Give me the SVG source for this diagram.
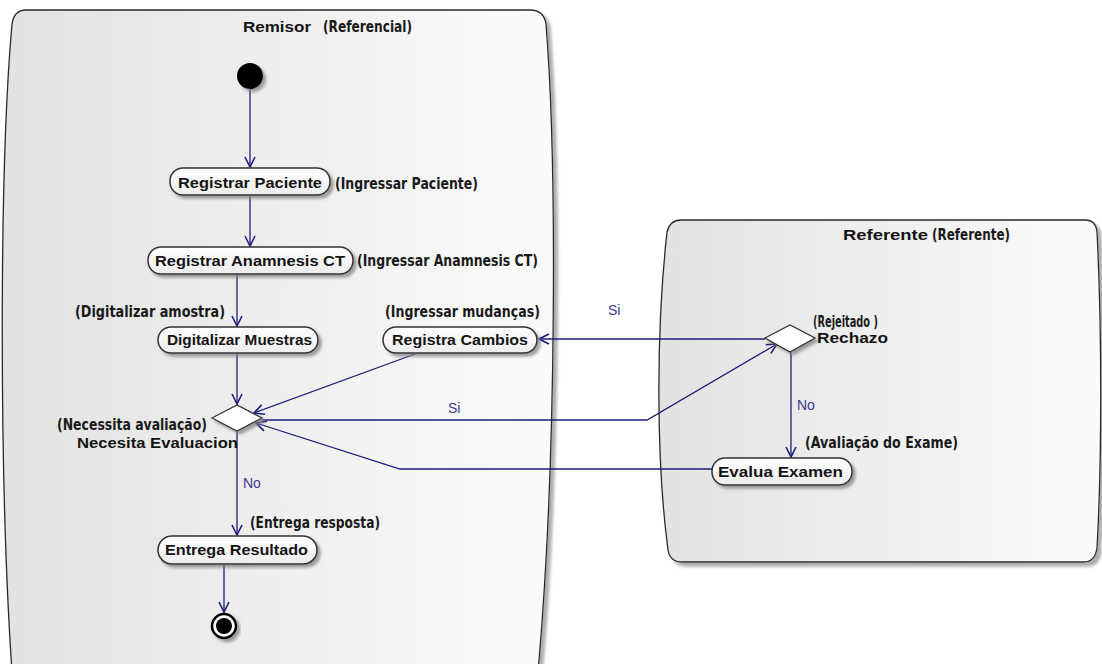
<svg xmlns="http://www.w3.org/2000/svg" width="1102" height="664" viewBox="0 0 1102 664">
  <defs>
    <linearGradient id="laneFill" x1="0" y1="0" x2="1" y2="0">
      <stop offset="0" stop-color="#e2e2e2"/>
      <stop offset="0.55" stop-color="#f0f0f0"/>
      <stop offset="1" stop-color="#fbfbfb"/>
    </linearGradient>
    <linearGradient id="nodeFill" x1="0" y1="0" x2="0" y2="1">
      <stop offset="0" stop-color="#ffffff"/>
      <stop offset="1" stop-color="#ececec"/>
    </linearGradient>
    <filter id="shadow" x="-10%" y="-20%" width="130%" height="160%">
      <feDropShadow dx="3" dy="3" stdDeviation="1.5" flood-color="#808080" flood-opacity="0.75"/>
    </filter>
    <filter id="laneShadow" x="-5%" y="-5%" width="115%" height="115%">
      <feDropShadow dx="4" dy="4" stdDeviation="1.5" flood-color="#9a9a9a" flood-opacity="0.8"/>
    </filter>
    <marker id="arrow" viewBox="0 0 12 12" refX="11" refY="6" markerWidth="12" markerHeight="12" markerUnits="userSpaceOnUse" orient="auto">
      <path d="M1,1 L11,6 L1,11" fill="none" stroke="#1e1e78" stroke-width="1.6"/>
    </marker>
  </defs>
  <style>
    .lane { fill: url(#laneFill); stroke: #2a2a2a; stroke-width: 1.3; filter: url(#laneShadow); }
    .node { fill: url(#nodeFill); stroke: #333333; stroke-width: 1.5; filter: url(#shadow); }
    .diamond { fill: #ffffff; stroke: #333333; stroke-width: 1.3; filter: url(#shadow); }
    .flow { fill: none; stroke: #1e1e78; stroke-width: 1.3; marker-end: url(#arrow); }
    .name { font-family: "Liberation Sans", Arial, sans-serif; font-weight: bold; font-size: 15px; fill: #141414; }
    .alias { font-family: "Liberation Sans Narrow", "DejaVu Sans Condensed", "Liberation Sans", sans-serif; font-weight: bold; font-size: 15px; fill: #1a1a1a; }
    .guard { font-family: "Liberation Sans", Arial, sans-serif; font-size: 14px; fill: #3a3a8c; }
  </style>

  <!-- swimlanes -->
  <g id="lane-remisor">
    <path class="lane" d="M12,24 Q14,10 26,10 L530,10 Q544,10 546,24 C557,160 557,460 538,672 L12,672 C-1,480 -1,170 12,24 Z"/>
    <text class="name" x="243" y="32" textLength="68" lengthAdjust="spacingAndGlyphs">Remisor</text>
    <text class="alias" x="323" y="32" textLength="89" lengthAdjust="spacingAndGlyphs">(Referencial)</text>
  </g>
  <g id="lane-referente">
    <path class="lane" d="M667,232 Q670,220 681,220 L1085,220 Q1096,220 1097,232 C1102,330 1102,460 1097,548 Q1095,562 1084,562 L682,562 Q670,562 668,550 C656,460 656,330 667,232 Z"/>
    <text class="name" x="843" y="240" textLength="85" lengthAdjust="spacingAndGlyphs">Referente</text>
    <text class="alias" x="932" y="240" textLength="78" lengthAdjust="spacingAndGlyphs">(Referente)</text>
  </g>

  <!-- connectors -->
  <g id="connectors">
    <path class="flow" d="M250,89 L250,167"/>
    <path class="flow" d="M250,195 L250,246"/>
    <path class="flow" d="M237,274 L237,326"/>
    <path class="flow" d="M237,353 L237,404"/>
    <path class="flow" d="M415,354 L254,413"/>
    <path class="flow" d="M262,420 L647,420 L777,344"/>
    <path class="flow" d="M765,339 L539,339"/>
    <path class="flow" d="M791,352 L791,457"/>
    <path class="flow" d="M712,469 L400,469 L256,423"/>
    <path class="flow" d="M237,431 L237,535"/>
    <path class="flow" d="M224,564 L224,612"/>
    <text class="guard" x="448" y="413">Si</text>
    <text class="guard" x="608" y="315">Si</text>
    <text class="guard" x="243" y="488">No</text>
    <text class="guard" x="797" y="410">No</text>
  </g>

  <!-- start -->
  <g id="start">
    <circle cx="250" cy="76" r="13" fill="#000" filter="url(#shadow)"/>
  </g>

  <g id="registrar-paciente">
    <rect class="node" x="170" y="168" width="160" height="27" rx="13"/>
    <text class="name" x="178" y="188" textLength="144" lengthAdjust="spacingAndGlyphs">Registrar Paciente</text>
    <text class="alias" x="335" y="189" textLength="143" lengthAdjust="spacingAndGlyphs">(Ingressar Paciente)</text>
  </g>

  <g id="registrar-anamnesis">
    <rect class="node" x="148" y="247" width="205" height="27" rx="13"/>
    <text class="name" x="155" y="266" textLength="190" lengthAdjust="spacingAndGlyphs">Registrar Anamnesis CT</text>
    <text class="alias" x="357" y="266" textLength="181" lengthAdjust="spacingAndGlyphs">(Ingressar Anamnesis CT)</text>
  </g>

  <g id="digitalizar-muestras">
    <text class="alias" x="75" y="317" textLength="150" lengthAdjust="spacingAndGlyphs">(Digitalizar amostra)</text>
    <rect class="node" x="158" y="327" width="160" height="26" rx="13"/>
    <text class="name" x="167" y="345" textLength="145" lengthAdjust="spacingAndGlyphs">Digitalizar Muestras</text>
  </g>

  <g id="registra-cambios">
    <text class="alias" x="385" y="317" textLength="155" lengthAdjust="spacingAndGlyphs">(Ingressar mudanças)</text>
    <rect class="node" x="383" y="327" width="154" height="26" rx="13"/>
    <text class="name" x="392" y="345" textLength="136" lengthAdjust="spacingAndGlyphs">Registra Cambios</text>
  </g>

  <g id="necesita-evaluacion">
    <polygon class="diamond" points="212,418 237,405 262,418 237,431"/>
    <text class="alias" x="57" y="430" textLength="150" lengthAdjust="spacingAndGlyphs">(Necessita avaliação)</text>
    <text class="name" x="77" y="448" textLength="161" lengthAdjust="spacingAndGlyphs">Necesita Evaluacion</text>
  </g>

  <g id="entrega-resultado">
    <text class="alias" x="250" y="528" textLength="130" lengthAdjust="spacingAndGlyphs">(Entrega resposta)</text>
    <rect class="node" x="158" y="536" width="159" height="28" rx="14"/>
    <text class="name" x="165" y="555" textLength="143" lengthAdjust="spacingAndGlyphs">Entrega Resultado</text>
  </g>

  <g id="end">
    <circle cx="224" cy="626" r="12" fill="#ffffff" stroke="#000" stroke-width="2.5" filter="url(#shadow)"/>
    <circle cx="224" cy="626" r="8" fill="#000"/>
  </g>

  <g id="rechazo">
    <polygon class="diamond" points="765,338 790,325 815,338 790,352"/>
    <text class="alias" x="813" y="327" textLength="65" lengthAdjust="spacingAndGlyphs">(Rejeitado )</text>
    <text class="name" x="817" y="343" textLength="71" lengthAdjust="spacingAndGlyphs">Rechazo</text>
  </g>

  <g id="evalua-examen">
    <text class="alias" x="805" y="448" textLength="153" lengthAdjust="spacingAndGlyphs">(Avaliação do Exame)</text>
    <rect class="node" x="712" y="458" width="140" height="27" rx="13"/>
    <text class="name" x="718" y="477" textLength="125" lengthAdjust="spacingAndGlyphs">Evalua Examen</text>
  </g>
</svg>
